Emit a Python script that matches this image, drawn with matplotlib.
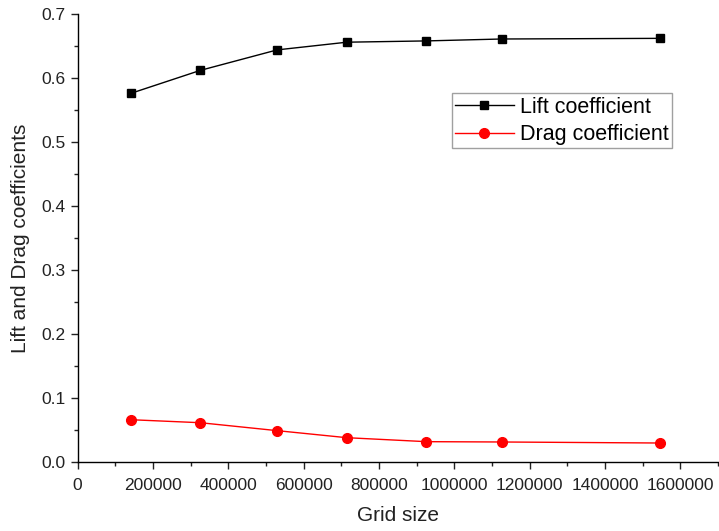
import matplotlib
matplotlib.use("Agg")
import matplotlib.pyplot as plt
from matplotlib.ticker import MultipleLocator, FormatStrFormatter

plt.rcParams['font.family'] = ['Liberation Sans', 'DejaVu Sans']

grid_size = [141000, 326000, 530000, 715000, 926000, 1126000, 1546000]
lift = [0.576, 0.612, 0.644, 0.656, 0.658, 0.661, 0.662]
drag = [0.0665, 0.0618, 0.0494, 0.0384, 0.0322, 0.0317, 0.0301]

fig = plt.figure(figsize=(7.19, 5.31), dpi=100)
ax = fig.add_axes([0.1078, 0.1294, 0.8908, 0.8442])

ax.plot(grid_size, lift, color='black', lw=1.0, marker='s', ms=6.3, label='Lift coefficient')
ax.plot(grid_size, drag, color='#ff0000', lw=1.0, marker='o', ms=7, label='Drag coefficient')

ax.set_xlim(0, 1700000)
ax.set_ylim(0, 0.7)
ax.xaxis.set_major_locator(MultipleLocator(200000))
ax.xaxis.set_minor_locator(MultipleLocator(100000))
ax.xaxis.set_major_formatter(FormatStrFormatter('%d'))
ax.yaxis.set_major_locator(MultipleLocator(0.1))
ax.yaxis.set_minor_locator(MultipleLocator(0.05))
ax.yaxis.set_major_formatter(FormatStrFormatter('%.1f'))

for s in ['top', 'right']:
    ax.spines[s].set_visible(False)
for s in ['left', 'bottom']:
    ax.spines[s].set_linewidth(1.0)

ax.tick_params(axis='both', which='major', direction='out', length=5, width=1, labelsize=12.5, colors='#222222')
ax.tick_params(axis='both', which='minor', direction='out', length=3, width=1, colors='#222222')
ax.tick_params(axis='x', pad=6)

ax.set_xlabel('Grid size', fontsize=15, color='#222222', labelpad=10)
ax.set_ylabel('Lift and Drag coefficients', fontsize=15, color='#222222', labelpad=8)

leg = ax.legend(loc='upper left', bbox_to_anchor=(0.584, 0.823), fontsize=15.5, frameon=True,
                fancybox=False, edgecolor='#888888', handlelength=2.75, handletextpad=0.3,
                borderpad=0.15, labelspacing=0.3, borderaxespad=0)
leg.get_frame().set_linewidth(1.0)

fig.savefig('out.png', dpi=100)
